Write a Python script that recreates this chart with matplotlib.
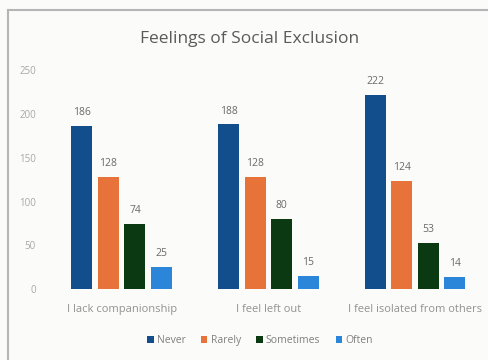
import numpy as np
import matplotlib.pyplot as plt
from matplotlib.lines import Line2D
from matplotlib.patches import Patch

plt.rcParams['font.family'] = ['Open Sans', 'DejaVu Sans']

# data
categories = ['I lack companionship', 'I feel left out', 'I feel isolated from others']
series = ['Never', 'Rarely', 'Sometimes', 'Often']
never = [186, 188, 222]
rarely = [128, 128, 124]
sometimes = [74, 80, 53]
often = [25, 15, 14]
colors = ['#124d8c', '#e8733a', '#0b3a12', '#2b86d9']

values = [never, rarely, sometimes, often]

fig = plt.figure(figsize=(4.88, 3.6), dpi=100)
fig.patch.set_facecolor('#fbfbfa')
ax = fig.add_axes([0.102, 0.197, 0.896, 0.608])
ax.set_facecolor('#fbfbfa')

x = np.arange(len(categories))
pitch = 0.181
width = 0.143
for i, (name, vals) in enumerate(zip(series, values)):
    pos = x + (i - 1.5) * pitch
    bars = ax.bar(pos, vals, width, color=colors[i], label=name)
    for b, v in zip(bars, vals):
        ax.text(b.get_x() + b.get_width() / 2, v + 9, str(v),
                ha='center', va='bottom', fontsize=7.5, color='#6a6a6a')

ax.set_xlim(-0.49, 2.49)
ax.set_ylim(0, 250)
ax.set_yticks(range(0, 251, 50))
ax.set_xticks(x)
ax.set_xticklabels(categories, fontsize=8, color='#929292')
ax.tick_params(axis='y', labelsize=7, labelcolor='#a8a8a8', length=0, pad=10)
ax.tick_params(axis='x', length=0, pad=11)
for s in ax.spines.values():
    s.set_visible(False)

fig.text(0.512, 0.893, 'Feelings of Social Exclusion', ha='center', va='center',
         fontsize=12.5, color='#5a5a5a')

handles = [Patch(facecolor=c, label=n) for c, n in zip(colors, series)]
fig.legend(handles=handles, loc='center', bbox_to_anchor=(0.533, 0.053), ncol=4,
           frameon=False, fontsize=7.5, handlelength=0.6, handleheight=0.6,
           handletextpad=0.3, columnspacing=1.5, labelcolor='#808080')

# photo frame edges (top and left)
fig.add_artist(Line2D([0.016, 1.0], [0.972, 0.972], color='#b5b5b5', lw=1.5))
fig.add_artist(Line2D([0.016, 0.016], [0.0, 0.972], color='#b5b5b5', lw=1.5))

fig.savefig('out.png', dpi=100, facecolor=fig.get_facecolor())
